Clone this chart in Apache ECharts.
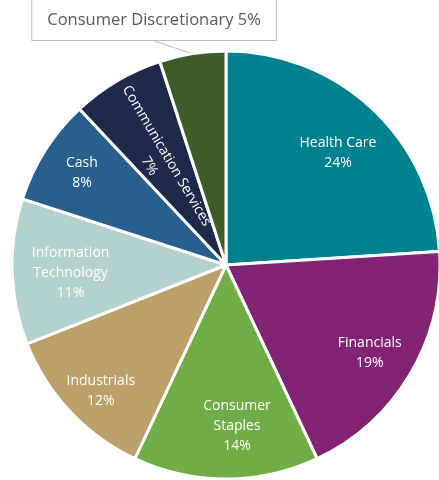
<!DOCTYPE html>
<html>
<head>
<meta charset="utf-8">
<script src="https://cdn.jsdelivr.net/npm/echarts@6/dist/echarts.min.js"></script>
<style>html,body{margin:0;padding:0;background:#fff}#c{width:439px;height:480px}</style>
</head>
<body>
<div id="c"></div>
<script>
const categories = ['Health Care','Financials','Consumer Staples','Industrials','Information Technology','Cash','Communication Services','Consumer Discretionary'];
const labelTexts = ['Health Care','Financials','Consumer\nStaples','Industrials','Information\nTechnology','Cash','Communication Services','Consumer Discretionary'];
const values = [24,19,14,12,11,8,7,5];
const colors = ['#00818F','#822373','#70AD47','#BBA068','#B3D1CF','#27608F','#1F2A4B','#3D5C27'];

const FONT = 'Open Sans';
const CX = 226, CY = 265, R = 214;

const mainData = categories.map((c,i)=>({
  name:c, value:values[i],
  itemStyle:{color:colors[i]},
  label: i===7 ? {
    show:true, position:'outside',
    formatter: labelTexts[i] + ' ' + values[i] + '%',
    color:'#595959', fontFamily:FONT, fontSize:16.5,
    backgroundColor:'#fff', borderColor:'#BFBFBF', borderWidth:1,
    padding:[12,15,11,15]
  } : {show:false},
  labelLine: i===7 ? {show:true, length:2, length2:0, lineStyle:{color:'#BFBFBF', width:1}} : {show:false}
}));

const labelData = categories.map((c,i)=>({
  name:c, value:values[i],
  label: i===7 ? {show:false} : {
    show:true, position:'inside',
    formatter: labelTexts[i] + '\n' + values[i] + '%',
    rotate: i===6 ? 'radial' : 0
  }
}));

const chart = echarts.init(document.getElementById('c'));
chart.setOption({
  animation:false,
  series:[
    {
      type:'pie', center:[CX,CY], radius:[0,R], startAngle:90, clockwise:true,
      avoidLabelOverlap:false,
      itemStyle:{borderColor:'#fff', borderWidth:3},
      data: mainData,
      labelLayout: function(p){
        if (p.dataIndex===7) return {x:154, y:20, align:'center', verticalAlign:'middle'};
        return {};
      }
    },
    {
      type:'pie', center:[CX,CY], radius:[R*0.5,R], startAngle:90, clockwise:true,
      silent:true, avoidLabelOverlap:false,
      itemStyle:{color:'rgba(0,0,0,0)'},
      label:{color:'#fff', fontFamily:FONT, fontSize:14, lineHeight:20, align:'center'},
      labelLine:{show:false},
      data: labelData,
      labelLayout: function(p){
        switch (p.dataIndex) {
          case 0: return {dx:0, dy:7};
          case 1: return {dx:3, dy:5};
          case 2: return {dx:11, dy:-2};
          case 3: return {dx:-6, dy:14};
          case 4: return {dx:8, dy:3};
          case 5: return {dx:-6, dy:-4};
          case 6: return {x:158, y:161, align:'center', verticalAlign:'middle'};
        }
        return {};
      }
    }
  ]
});
</script>
</body>
</html>
